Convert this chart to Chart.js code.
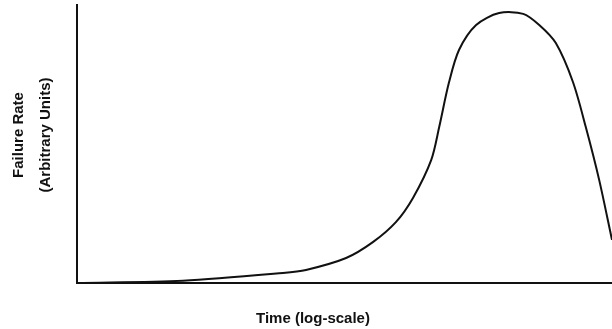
<!DOCTYPE html>
<html>
<head>
<meta charset="utf-8">
<script src="https://cdn.jsdelivr.net/npm/chart.js@4/dist/chart.umd.min.js"></script>
<style>
  html, body { margin: 0; padding: 0; background: #fff; }
  #wrap { width: 612px; height: 329px; }
</style>
</head>
<body>
<div id="wrap"><canvas id="failureChart"></canvas></div>
<script>
// Time positions (log-scale, arbitrary 0-100) and failure rate (arbitrary units)
const timePos = [0, 19.8, 38.5, 42.8, 50.3, 55.3, 59.6, 62.8, 66.2, 67.7, 69.5, 71.4, 74.6, 78.9, 83.4, 86.4, 89.5, 92.7, 95.1, 97.6, 100];
const failureRate = [0, 0.8, 3.6, 4.7, 9.0, 14.7, 21.9, 30.6, 44.2, 56.1, 71.9, 83.8, 92.8, 97.1, 96.8, 92.8, 86.3, 72.3, 56.1, 37.1, 15.5];

const xTitle = 'Time (log-scale)';
const yTitle = ['Failure Rate', '(Arbitrary Units)'];

const points = timePos.map((t, i) => ({ x: t, y: failureRate[i] }));

// draws the axis titles a bit off-centre, like the original figure
const axisTitles = {
  id: 'axisTitles',
  afterDraw(chart) {
    const { ctx, chartArea } = chart;
    ctx.save();
    ctx.fillStyle = '#111';
    ctx.font = 'bold 15px "Liberation Sans", Arial, sans-serif';
    ctx.textAlign = 'center';
    ctx.textBaseline = 'alphabetic';
    ctx.fillText(xTitle, chartArea.left + 236, chartArea.bottom + 40);

    const cy = chartArea.top + 130;
    yTitle.forEach((line, i) => {
      ctx.save();
      ctx.translate(23 + i * 27, cy);
      ctx.rotate(-Math.PI / 2);
      ctx.fillText(line, 0, 0);
      ctx.restore();
    });
    ctx.restore();
  }
};

new Chart(document.getElementById('failureChart'), {
  type: 'line',
  data: {
    datasets: [{
      data: points,
      borderColor: '#111',
      borderWidth: 2,
      pointRadius: 0,
      tension: 0.3,
      fill: false
    }]
  },
  options: {
    responsive: true,
    maintainAspectRatio: false,
    animation: false,
    layout: { padding: { top: 5, right: 0, bottom: 0, left: 0 } },
    plugins: {
      legend: { display: false },
      tooltip: { enabled: false }
    },
    scales: {
      x: {
        type: 'linear',
        min: 0,
        max: 100,
        grid: { display: false },
        ticks: { display: false },
        border: { display: true, color: '#111', width: 2 },
        afterFit(scale) { scale.height = 46; }
      },
      y: {
        min: 0,
        max: 100,
        grid: { display: false },
        ticks: { display: false },
        border: { display: true, color: '#111', width: 2 },
        afterFit(scale) { scale.width = 77; }
      }
    }
  },
  plugins: [axisTitles]
});
</script>
</body>
</html>
